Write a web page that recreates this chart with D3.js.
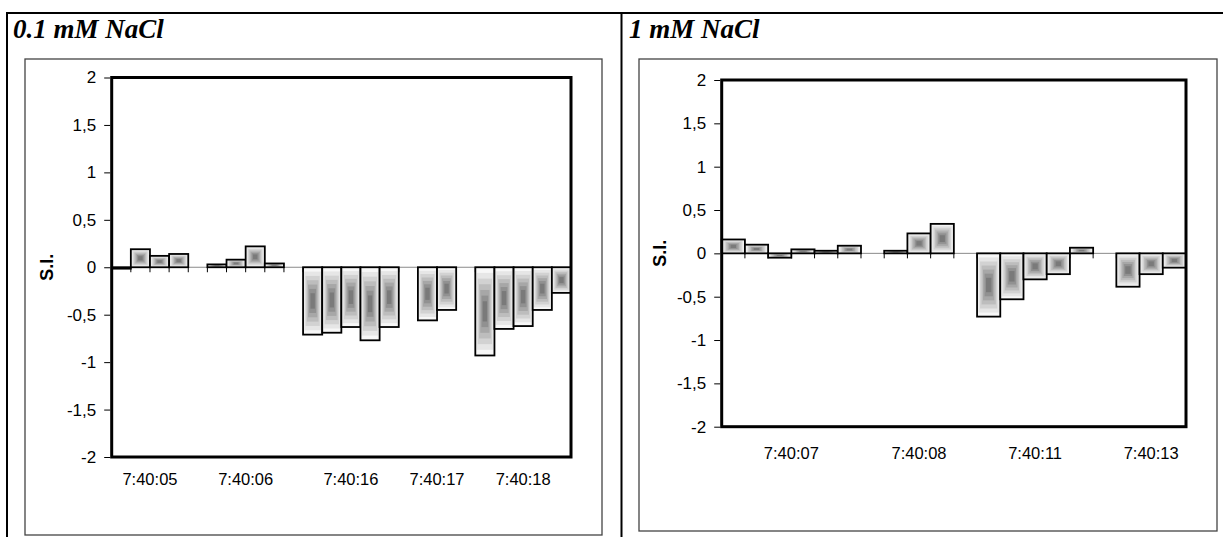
<!DOCTYPE html>
<html>
<head>
<meta charset="utf-8">
<script src="https://cdn.jsdelivr.net/npm/d3@7"></script>
<style>
  html, body { margin: 0; padding: 0; background: #fff; }
  svg { display: block; }
</style>
</head>
<body>
<svg id="fig" width="1223" height="537"></svg>
<script>
// Saturation index of each reading, grouped by time stamp
const panelTitles = ["0.1 mM NaCl", "1 mM NaCl"];
const yTitle = "S.I.";
const yTicks = [2, 1.5, 1, 0.5, 0, -0.5, -1, -1.5, -2];

const timesLow = ["7:40:05", "7:40:06", "7:40:16", "7:40:17", "7:40:18"];
const siLow0 = [-0.015, 0.19, 0.12, 0.14];
const siLow1 = [0.03, 0.08, 0.22, 0.04];
const siLow2 = [-0.71, -0.69, -0.63, -0.77, -0.63];
const siLow3 = [-0.56, -0.45];
const siLow4 = [-0.93, -0.65, -0.62, -0.45, -0.27];

const timesHigh = ["7:40:07", "7:40:08", "7:40:11", "7:40:13"];
const siHigh0 = [0.16, 0.10, -0.05, 0.046, 0.03, 0.088];
const siHigh1 = [0.03, 0.23, 0.34];
const siHigh2 = [-0.73, -0.53, -0.30, -0.24, 0.065];
const siHigh3 = [-0.385, -0.24, -0.165];

const svg = d3.select("#fig");
const fmt = d3.formatLocale({decimal: ",", thousands: ".", grouping: [3], currency: ["", ""], minus: "-"}).format("~g");

// outer table rules
const table = svg.append("g").attr("stroke", "#000").attr("stroke-width", 2);
table.append("line").attr("x1", 6).attr("x2", 1223).attr("y1", 13).attr("y2", 13);
table.append("line").attr("x1", 7).attr("x2", 7).attr("y1", 12).attr("y2", 537);
table.append("line").attr("x1", 621.5).attr("x2", 621.5).attr("y1", 12).attr("y2", 537);

// rectangular "from centre" shading used on every bar
const shadeSteps = 7;
const shade = d3.interpolateRgb("#f7f7f7", "#7a7a7a");

function drawPanel(cfg) {
  const g = svg.append("g");

  g.append("text")
    .attr("x", cfg.titleX).attr("y", 38)
    .attr("font-family", "'Liberation Serif', 'Times New Roman', serif")
    .attr("font-weight", "bold").attr("font-style", "italic")
    .attr("font-size", 27)
    .text(cfg.title);

  g.append("rect")
    .attr("x", cfg.frame[0]).attr("y", cfg.frame[1])
    .attr("width", cfg.frame[2]).attr("height", cfg.frame[3])
    .attr("fill", "none").attr("stroke", "#444").attr("stroke-width", 1.3);

  // category list: one slot per reading, one empty slot between time stamps
  const cats = [];
  const bars = [];
  const groupSlots = [];
  cfg.groups.forEach((vals, gi) => {
    if (gi > 0) cats.push("gap" + gi);
    const slots = [];
    vals.forEach((v, i) => {
      const id = gi + "-" + i;
      cats.push(id);
      slots.push(id);
      bars.push({id, v});
    });
    groupSlots.push(slots);
  });

  const x = d3.scaleBand().domain(cats).range([cfg.plot.l, cfg.plot.r]).paddingInner(0).paddingOuter(0);
  const y = d3.scaleLinear().domain([-2, 2]).range([cfg.plot.b, cfg.plot.t]);
  const y0 = y(0);

  // zero line and category ticks
  g.append("line")
    .attr("x1", cfg.plot.l).attr("x2", cfg.plot.r)
    .attr("y1", y0).attr("y2", y0)
    .attr("stroke", "#8a8a8a").attr("stroke-width", 1);
  const bounds = cats.map(c => x(c)).concat([cfg.plot.r]);
  g.append("g").selectAll("line").data(bounds).join("line")
    .attr("x1", d => d).attr("x2", d => d)
    .attr("y1", y0).attr("y2", y0 + 5)
    .attr("stroke", "#000").attr("stroke-width", 1);

  // bars
  const bw = x.bandwidth();
  const barG = g.append("g").selectAll("g").data(bars).join("g");
  barG.each(function(d) {
    const bx = x(d.id);
    const top = Math.min(y(d.v), y0);
    const h = Math.abs(y(d.v) - y0);
    const sel = d3.select(this);
    for (let i = 0; i < shadeSteps; i++) {
      const f = i / shadeSteps * 0.9;
      const dx = f * bw / 2, dy = f * h / 2;
      sel.append("rect")
        .attr("x", bx + dx).attr("y", top + dy)
        .attr("width", Math.max(0, bw - 2 * dx)).attr("height", Math.max(0, h - 2 * dy))
        .attr("fill", shade(Math.pow(i / (shadeSteps - 1), 1.1)));
    }
    sel.append("rect")
      .attr("x", bx).attr("y", top).attr("width", bw).attr("height", h)
      .attr("fill", "none").attr("stroke", "#000").attr("stroke-width", 1.8);
  });

  // plot border
  g.append("rect")
    .attr("x", cfg.plot.l).attr("y", cfg.plot.t)
    .attr("width", cfg.plot.r - cfg.plot.l).attr("height", cfg.plot.b - cfg.plot.t)
    .attr("fill", "none").attr("stroke", "#000").attr("stroke-width", 3);

  // value axis
  const ax = g.append("g")
    .attr("transform", `translate(${cfg.plot.l - 1.5},0)`)
    .call(d3.axisLeft(y).tickValues(yTicks).tickFormat(fmt).tickSizeInner(6).tickSizeOuter(0).tickPadding(8));
  ax.select(".domain").remove();
  ax.selectAll("line").attr("stroke", "#000");
  ax.selectAll("text")
    .attr("font-family", "'Liberation Sans', Arial, sans-serif")
    .attr("font-size", 17).attr("fill", "#000");

  g.append("text")
    .attr("transform", `translate(${cfg.yTitleX},${y0}) rotate(-90)`)
    .attr("text-anchor", "middle").attr("dy", "0.35em")
    .attr("font-family", "'Liberation Sans', Arial, sans-serif")
    .attr("font-weight", "bold").attr("font-size", 18)
    .text(yTitle);

  // time stamp labels centred under each group of readings
  g.append("g").selectAll("text").data(cfg.times).join("text")
    .attr("x", (t, i) => {
      const s = groupSlots[i];
      return (x(s[0]) + x(s[s.length - 1]) + bw) / 2;
    })
    .attr("y", cfg.plot.b + cfg.labelGap)
    .attr("text-anchor", "middle")
    .attr("font-family", "'Liberation Sans', Arial, sans-serif")
    .attr("font-size", 16.5)
    .text(t => t);
}

drawPanel({
  title: panelTitles[0], titleX: 13,
  frame: [25, 59, 577, 476],
  plot: {l: 111.7, r: 571, t: 77.5, b: 457},
  yTitleX: 47,
  labelGap: 28,
  groups: [siLow0, siLow1, siLow2, siLow3, siLow4],
  times: timesLow
});

drawPanel({
  title: panelTitles[1], titleX: 629,
  frame: [639, 59, 578, 472],
  plot: {l: 721.7, r: 1186, t: 80, b: 426.7},
  yTitleX: 660,
  labelGap: 32,
  groups: [siHigh0, siHigh1, siHigh2, siHigh3],
  times: timesHigh
});
</script>
</body>
</html>
